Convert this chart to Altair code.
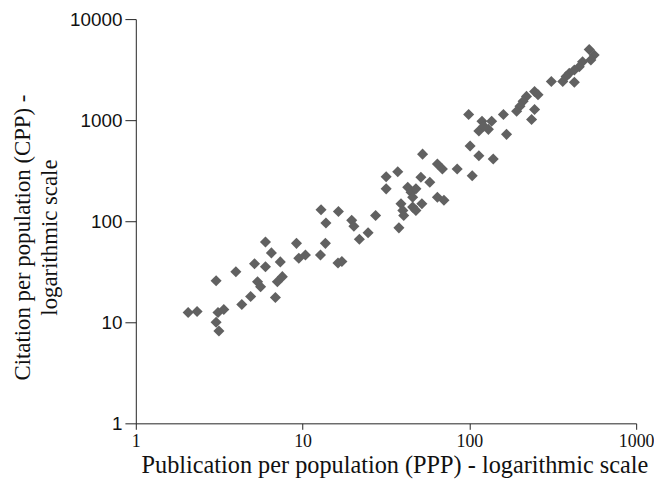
import altair as alt
import pandas as pd

# Publication per population (PPP) and citation per population (CPP)
ppp = [2.06, 2.33, 3.03, 3.98, 3.11, 3.37, 3.03, 3.15, 4.32, 4.88,
       5.15, 5.99, 6.5, 7.35, 5.37, 5.6, 7.06, 7.56, 6.87, 5.99,
       9.19, 9.49, 10.4, 12.8, 13.7, 17.2, 16.3, 12.9, 13.8, 16.4,
       19.7, 20.3, 21.9, 24.7, 27.4, 31.7, 31.7, 37.2, 37.8, 38.9,
       39.9, 40.4, 42.7, 44.7, 45.7, 47.8, 45.7, 47.8, 51.2, 51.9,
       57.9, 52.4, 64.3, 68.9, 64.3, 70.4, 84.5, 104,
       523, 560, 535, 477, 456, 426, 397, 380, 363, 310,
       426, 246, 258, 220, 210, 201, 192, 246, 236, 160,
       99, 119, 136, 114, 130, 122, 167, 101, 114, 139]
cpp = [12.5, 12.8, 25.8, 31.6, 12.5, 13.4, 10.0, 8.2, 15.0, 18.0,
       37.9, 35.4, 48.6, 39.6, 25.2, 22.5, 25.2, 28.3, 17.6, 62.3,
       60.4, 43.1, 46.4, 46.4, 60.4, 39.9, 38.6, 130, 96.2, 125,
       102, 89.3, 66.2, 76.8, 114, 276, 209, 309, 86.0, 149,
       128, 114, 217, 194, 173, 209, 138, 128, 272, 149,
       243, 461, 368, 329, 173, 161, 329, 282,
       5000, 4406, 3936, 3787, 3383, 3141, 2911, 2699, 2412, 2412,
       2373, 1924, 1786, 1719, 1536, 1372, 1225, 1274, 1016, 1137,
       1137, 977, 977, 780, 811, 873, 724, 556, 444, 412]

x_ticks = [1, 10, 100, 1000]
y_ticks = [1, 10, 100, 1000, 10000]
x_title = "Publication per population (PPP) - logarithmic scale"
y_title = ["Citation per population (CPP) -", "logarithmic scale" + "\u00a0" * 7]

df = pd.DataFrame({"PPP": ppp, "CPP": cpp})

serif = "Liberation Serif"
sans = "Liberation Sans"

chart = alt.Chart(df).mark_point(
    shape="diamond", filled=True, size=125, color="#616161", opacity=1
).encode(
    x=alt.X("PPP:Q",
            scale=alt.Scale(type="log", domain=[1, 1000], nice=False),
            axis=alt.Axis(values=x_ticks, format="d", grid=False, title=x_title,
                          labelFont=serif, labelFontSize=18, labelColor="#111",
                          labelFlush=False, labelOverlap=False, labelPadding=3,
                          tickSize=6, tickColor="#222", domainColor="#222",
                          titleFont=serif, titleFontSize=24.5, titleFontWeight="normal",
                          titleColor="#111", titlePadding=4, titleX=261)),
    y=alt.Y("CPP:Q",
            scale=alt.Scale(type="log", domain=[1, 10000], nice=False),
            axis=alt.Axis(values=y_ticks, format="d", grid=False, title=y_title,
                          labelFont=sans, labelFontSize=19, labelColor="#111",
                          labelFlush=False, labelOverlap=False, labelPadding=3,
                          tickSize=11, tickColor="#222", domainColor="#222",
                          titleFont=serif, titleFontSize=23, titleFontWeight="normal",
                          titleColor="#111", titlePadding=8, titleLineHeight=27,
                          titleY=220)),
).properties(
    width=505, height=408,
    autosize=alt.AutoSizeParams(type="none"),
    padding={"left": 129, "top": 9, "right": 18, "bottom": 58},
).configure_view(stroke=None)

chart.save("out.html", embed_options={"renderer": "svg", "actions": False})
